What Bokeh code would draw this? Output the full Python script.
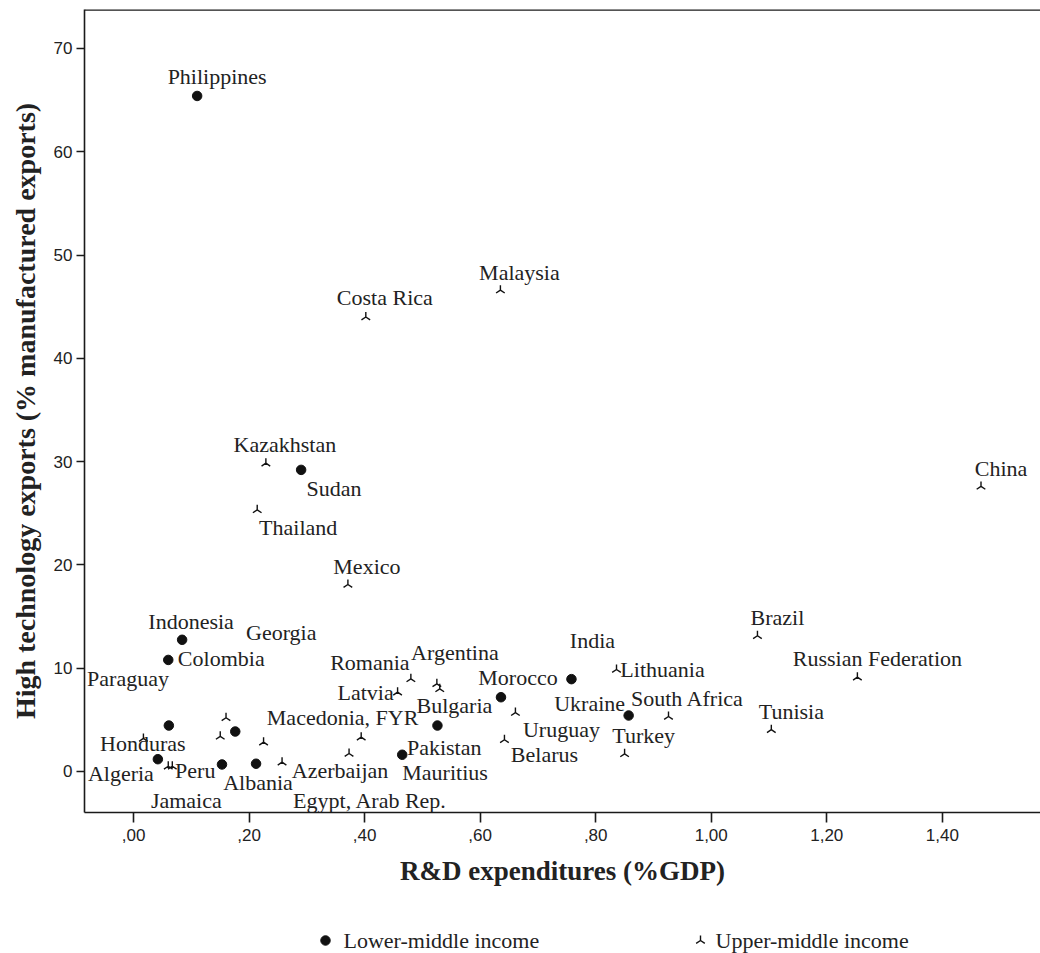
import math
from bokeh.plotting import figure
from bokeh.models import ColumnDataSource, FixedTicker, Span, Range1d, CDSView, GroupFilter
from bokeh.layouts import column
from bokeh.embed import file_html
from bokeh.resources import INLINE
from bokeh.core.properties import value

# ---------------- data ----------------
LOWER = "Lower-middle income"
UPPER = "Upper-middle income"

countries = [
    "Philippines", "Sudan", "Indonesia", "Colombia", "Honduras", "Georgia",
    "Algeria", "Albania", "Egypt, Arab Rep.", "Pakistan", "Bulgaria", "Morocco",
    "India", "Ukraine",
    "Malaysia", "Costa Rica", "Kazakhstan", "Thailand", "Mexico", "China",
    "Brazil", "Russian Federation", "Tunisia", "South Africa", "Turkey",
    "Lithuania", "Uruguay", "Belarus", "Romania", "Argentina", "Latvia",
    "Macedonia, FYR", "Azerbaijan", "Mauritius", "Peru", "Jamaica", "Paraguay",
    "", "", "", "",
]
rd_gdp = [
    0.110, 0.290, 0.084, 0.060, 0.061, 0.176,
    0.042, 0.153, 0.212, 0.465, 0.526, 0.636,
    0.758, 0.857,
    0.635, 0.402, 0.229, 0.214, 0.371, 1.467,
    1.080, 1.253, 1.104, 0.926, 0.850,
    0.836, 0.661, 0.642, 0.480, 0.525, 0.457,
    0.225, 0.257, 0.373, 0.060, 0.067, 0.160,
    0.150, 0.394, 0.530, 0.017,
]
hightech = [
    65.4, 29.2, 12.75, 10.8, 4.45, 3.87,
    1.19, 0.68, 0.75, 1.62, 4.45, 7.19,
    8.94, 5.42,
    46.6, 44.0, 29.85, 25.33, 18.1, 27.6,
    13.14, 9.13, 4.05, 5.32, 1.71,
    9.87, 5.7, 3.07, 8.97, 8.49, 7.68,
    2.84, 0.9, 1.74, 0.51, 0.51, 5.2,
    3.4, 3.32, 8.0, 3.2,
]
income = [LOWER] * 14 + [UPPER] * 27

# label placement (pixel offsets of each label from its point)
label_dx = [
    20, 33, 9, 53, -26, 46,
    -37, 36, 114, 42, 17, 17,
    21, -39,
    19, 19, 19, 41, 19, 20,
    20, 20, 20, 19, 19,
    46, 46, 40, -41, 18, -32,
    79, 58, 96, 27, 14, -98,
    0, 0, 0, 0,
]
label_dy = [
    -19, 19, -18, -1, 18, -99,
    14, 18, 37, -7, -20, -20,
    -39, -12,
    -18, -20, -19, 18, -18, -18,
    -18, -19, -18, -18, -18,
    0, 17, 15, -16, -31, 0,
    -25, 8, 19, 4, 34, -39,
    0, 0, 0, 0,
]

x_ticks = [0.0, 0.2, 0.4, 0.6, 0.8, 1.0, 1.2, 1.4]
x_tick_labels = [",00", ",20", ",40", ",60", ",80", "1,00", "1,20", "1,40"]
y_ticks = [0, 10, 20, 30, 40, 50, 60, 70]

X_TITLE = "R&D expenditures (%GDP)"
Y_TITLE = "High technology exports (% manufactured exports)"
legend_labels = [LOWER, UPPER]

# ---------------- figure ----------------
X_START, X_END = -0.085, 1.570
Y_START, Y_END = -3.97, 73.77

p = figure(width=1040, height=894, output_backend="svg", toolbar_location=None,
           x_range=Range1d(X_START, X_END), y_range=Range1d(Y_START, Y_END),
           min_border_left=84, min_border_right=0, min_border_top=9,
           min_border_bottom=82)
p.outline_line_color = None
p.xgrid.visible = False
p.ygrid.visible = False
p.background_fill_color = "white"
p.border_fill_color = "white"

for ax in (p.xaxis[0], p.yaxis[0]):
    ax.axis_line_color = "#1a1a1a"
    ax.axis_line_width = 1.6
    ax.major_tick_line_color = "#1a1a1a"
    ax.major_tick_line_width = 1.6
    ax.major_tick_in = 0
    ax.minor_tick_line_color = None
    ax.major_label_text_font = "Liberation Sans"
    ax.major_label_text_font_size = "17px"
    ax.major_label_text_color = "#222222"
    ax.axis_label_text_font = "Liberation Serif"
    ax.axis_label_text_font_style = "bold"
    ax.axis_label_text_color = "#222222"

p.xaxis.ticker = FixedTicker(ticks=x_ticks)
p.xaxis.major_label_overrides = {t: l for t, l in zip(x_ticks, x_tick_labels)}
p.xaxis.major_tick_out = 10
p.xaxis.major_label_standoff = 6
p.xaxis.axis_label = X_TITLE
p.xaxis.axis_label_text_font_size = "27px"
p.xaxis.axis_label_standoff = 12

p.yaxis.ticker = FixedTicker(ticks=y_ticks)
p.yaxis.major_tick_out = 8
p.yaxis.major_label_standoff = 4
p.yaxis.axis_label = Y_TITLE
p.yaxis.axis_label_text_font_size = "28px"
p.yaxis.axis_label_standoff = 10

top_line = Span(location=Y_END, dimension="width", line_color="#1a1a1a", line_width=2.4)
p.add_layout(top_line)

src = ColumnDataSource(dict(country=countries, x=rd_gdp, y=hightech, inc=income,
                            dx=label_dx, dy=label_dy))
lower_view = CDSView(filter=GroupFilter(column_name="inc", group=LOWER))
upper_view = CDSView(filter=GroupFilter(column_name="inc", group=UPPER))

p.scatter("x", "y", source=src, view=lower_view, marker="circle", size=9.5,
          fill_color="#111111", line_color="#111111")
p.scatter("x", "y", source=src, view=upper_view, marker="y", size=10, angle=math.pi,
          line_color="#111111", line_width=1.4)

p.text("x", "y", text="country", source=src, x_offset="dx", y_offset="dy",
       text_align="center", text_baseline="middle",
       text_font=value("Liberation Serif"), text_font_size="22px", text_color="#222222")

# ---------------- legend strip (frame aligned with the plot frame) ----------------
leg = figure(width=1040, height=59, output_backend="svg", toolbar_location=None,
             x_range=Range1d(84, 1040), y_range=Range1d(0, 59),
             min_border_left=84, min_border_right=0, min_border_top=0, min_border_bottom=0)
leg.outline_line_color = None
leg.axis.visible = False
leg.grid.visible = False
leg.scatter([325], [13], marker="circle", size=9.5, fill_color="#111111", line_color="#111111")
leg.scatter([700], [13], marker="y", size=10, angle=math.pi, line_color="#111111", line_width=1.4)
leg.text([343, 715], [13, 13], text=legend_labels, text_align="left", text_baseline="middle",
         text_font=value("Liberation Serif"), text_font_size="22px", text_color="#222222")

layout = column(p, leg, spacing=0)
open("out.html", "w").write(file_html(layout, INLINE))
